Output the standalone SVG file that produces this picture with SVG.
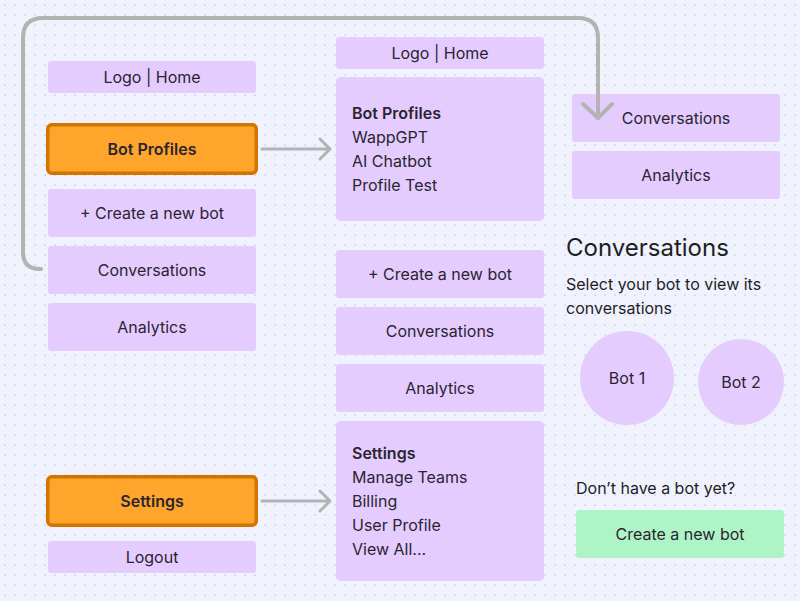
<svg xmlns="http://www.w3.org/2000/svg" width="800" height="601" viewBox="0 0 800 601">
<defs>
<pattern id="dots" x="0" y="0" width="10" height="10" patternUnits="userSpaceOnUse">
<rect x="4.5" y="4.5" width="1.2" height="1.2" fill="#b9bccb"/>
</pattern>
<style>
.box{fill:#e4ccff}
.hl{fill:#ffa52c;stroke:#d27400;stroke-width:3.5}
.t{font-family:Inter,"Noto Sans","Liberation Sans",sans-serif;font-size:16px;fill:#2a2530}
.c{text-anchor:middle}
.b{font-weight:600}
.conn{fill:none;stroke:#b3b3b3;stroke-linecap:round;stroke-linejoin:round}
</style>
</defs>
<rect width="800" height="601" fill="#f0f2fe"/>
<rect width="800" height="601" fill="url(#dots)"/>

<g id="left-logo"><rect class="box" x="48" y="61" width="208" height="32" rx="3"/><text class="t c" x="152" y="83">Logo | Home</text></g>
<g id="left-botprofiles"><rect class="hl" x="47.75" y="124.75" width="208.5" height="48.5" rx="4"/><text class="t c b" x="152" y="155">Bot Profiles</text></g>
<g id="left-create"><rect class="box" x="48" y="189" width="208" height="48" rx="3"/><text class="t c" x="152" y="219">+ Create a new bot</text></g>
<g id="left-conversations"><rect class="box" x="48" y="246" width="208" height="48" rx="3"/><text class="t c" x="152" y="276">Conversations</text></g>
<g id="left-analytics"><rect class="box" x="48" y="303" width="208" height="48" rx="3"/><text class="t c" x="152" y="333">Analytics</text></g>
<g id="left-settings"><rect class="hl" x="47.75" y="476.75" width="208.5" height="48.5" rx="4"/><text class="t c b" x="152" y="507">Settings</text></g>
<g id="left-logout"><rect class="box" x="48" y="541" width="208" height="32" rx="3"/><text class="t c" x="152" y="563">Logout</text></g>

<g id="mid-logo"><rect class="box" x="336" y="37" width="208" height="32" rx="3"/><text class="t c" x="440" y="59">Logo | Home</text></g>
<g id="mid-botprofiles"><rect class="box" x="336" y="77" width="208" height="144" rx="5"/>
<text class="t b" x="352" y="119">Bot Profiles</text>
<text class="t" x="352" y="143">WappGPT</text>
<text class="t" x="352" y="167">AI Chatbot</text>
<text class="t" x="352" y="191">Profile Test</text></g>
<g id="mid-create"><rect class="box" x="336" y="250" width="208" height="48" rx="3"/><text class="t c" x="440" y="280">+ Create a new bot</text></g>
<g id="mid-conversations"><rect class="box" x="336" y="307" width="208" height="48" rx="3"/><text class="t c" x="440" y="337">Conversations</text></g>
<g id="mid-analytics"><rect class="box" x="336" y="364" width="208" height="48" rx="3"/><text class="t c" x="440" y="394">Analytics</text></g>
<g id="mid-settings"><rect class="box" x="336" y="421" width="208" height="160" rx="5"/>
<text class="t b" x="352" y="459">Settings</text>
<text class="t" x="352" y="483">Manage Teams</text>
<text class="t" x="352" y="507">Billing</text>
<text class="t" x="352" y="531">User Profile</text>
<text class="t" x="352" y="555">View All...</text></g>

<g id="right-conversations"><rect class="box" x="572" y="94" width="208" height="48" rx="3"/><text class="t c" x="676" y="124">Conversations</text></g>
<g id="right-analytics"><rect class="box" x="572" y="151" width="208" height="48" rx="3"/><text class="t c" x="676" y="181">Analytics</text></g>
<g id="heading"><text class="t" x="566" y="256" style="font-size:24px;fill:#1e1e1e">Conversations</text>
<text class="t" x="566" y="290" style="fill:#1e1e1e">Select your bot to view its</text>
<text class="t" x="566" y="314" style="fill:#1e1e1e">conversations</text></g>
<g id="bot1"><circle class="box" cx="627" cy="378" r="47"/><text class="t c" x="627" y="384">Bot 1</text></g>
<g id="bot2"><circle class="box" cx="741" cy="382" r="43"/><text class="t c" x="741" y="388">Bot 2</text></g>
<g id="nobot"><text class="t" x="576" y="494" style="fill:#1e1e1e">Don’t have a bot yet?</text></g>
<g id="create-btn"><rect x="576" y="510" width="208" height="48" rx="3" fill="#aff4c6"/><text class="t c" x="680" y="540">Create a new bot</text></g>

<g id="connectors">
<path class="conn" stroke-width="4" d="M41,269 H40 Q23,269 23,252 V38 Q23,18 43,18 H578 Q598,18 598,38 V118"/>
<path class="conn" stroke-width="4" d="M583,104 L598,118 L612,104"/>
<path class="conn" stroke-width="3" d="M262,149 H330 M320,139 L330,149 L320,159"/>
<path class="conn" stroke-width="3" d="M262,501 H330 M320,491 L330,501 L320,511"/>
</g>
</svg>
